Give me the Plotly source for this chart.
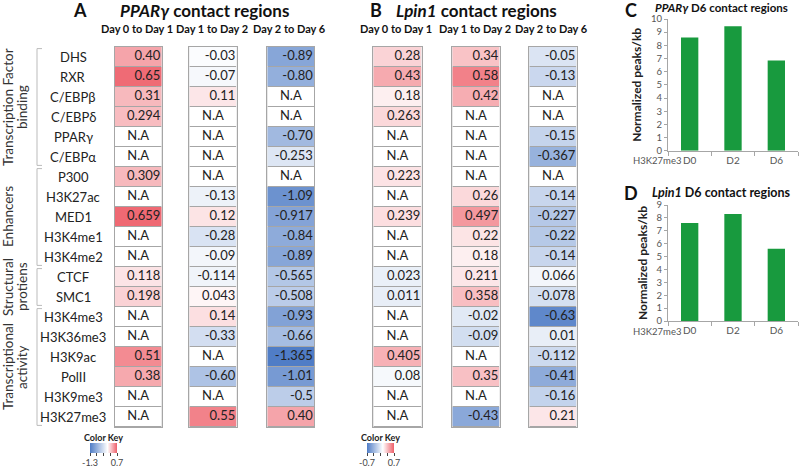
import plotly.graph_objects as go

# ---------------- data ----------------
rows = ["DHS", "RXR", "C/EBPβ", "C/EBPδ", "PPARγ", "C/EBPα", "P300", "H3K27ac",
        "MED1", "H3K4me1", "H3K4me2", "CTCF", "SMC1", "H3K4me3", "H3K36me3",
        "H3K9ac", "PolII", "H3K9me3", "H3K27me3"]
columns = ["Day 0 to Day 1", "Day 1 to Day 2", "Day 2 to Day 6"]

pparg_d0_d1 = ["0.40", "0.65", "0.31", "0.294", "N.A", "N.A", "0.309", "N.A", "0.659", "N.A",
               "N.A", "0.118", "0.198", "N.A", "N.A", "0.51", "0.38", "N.A", "N.A"]
pparg_d1_d2 = ["-0.03", "-0.07", "0.11", "N.A", "N.A", "N.A", "N.A", "-0.13", "0.12", "-0.28",
               "-0.09", "-0.114", "0.043", "0.14", "-0.33", "N.A", "-0.60", "N.A", "0.55"]
pparg_d2_d6 = ["-0.89", "-0.80", "N.A", "N.A", "-0.70", "-0.253", "N.A", "-1.09", "-0.917", "-0.84",
               "-0.89", "-0.565", "-0.508", "-0.93", "-0.66", "-1.365", "-1.01", "-0.5", "0.40"]
lpin1_d0_d1 = ["0.28", "0.43", "0.18", "0.263", "N.A", "N.A", "0.223", "N.A", "0.239", "N.A",
               "N.A", "0.023", "0.011", "N.A", "N.A", "0.405", "0.08", "N.A", "N.A"]
lpin1_d1_d2 = ["0.34", "0.58", "0.42", "N.A", "N.A", "N.A", "N.A", "0.26", "0.497", "0.22",
               "0.18", "0.211", "0.358", "-0.02", "-0.09", "N.A", "0.35", "N.A", "-0.43"]
lpin1_d2_d6 = ["-0.05", "-0.13", "N.A", "N.A", "-0.15", "-0.367", "N.A", "-0.14", "-0.227", "-0.22",
               "-0.14", "0.066", "-0.078", "-0.63", "0.01", "-0.112", "-0.41", "-0.16", "0.21"]

groups = ["Transcription Factor|binding", "Enhancers", "Structural|protiens", "Transcriptional|activity"]
group_first_row = [0, 6, 11, 13]
group_last_row = [5, 10, 12, 18]

bar_days = ["D0", "D2", "D6"]
pparg_h3k27me3 = [8.6, 9.45, 6.85]
lpin1_h3k27me3 = [7.6, 8.3, 5.6]

key_a_range = [-1.3, 0.7]
key_b_range = [-0.7, 0.7]

# ---------------- style ----------------
W, H = 800, 468
FONT = "Lato"
BLUE = "rgb(80,125,198)"
RED = "rgb(238,96,106)"
GRID = "#a6a6a6"


def px(x):
    return x / W


def py(y):
    return 1 - y / H


row_top, row_bot = 47, 427
col_px = [(114.7, 161.7), (189.3, 236.7), (267.3, 314.3),
          (373.3, 421.7), (452.3, 499.7), (529.3, 576.7)]
panel_cols = [pparg_d0_d1, pparg_d1_d2, pparg_d2_d6, lpin1_d0_d1, lpin1_d1_d2, lpin1_d2_d6]

fig = go.Figure()
layout = dict(width=W, height=H, margin=dict(l=0, r=0, t=0, b=0, autoexpand=False),
              paper_bgcolor="white", plot_bgcolor="white",
              font=dict(family=FONT, color="#222"), showlegend=False)

n = len(rows)
ridx = list(range(n))
for k, vals in enumerate(panel_cols):
    xa = "x" if k == 0 else f"x{k+1}"
    ya = "y" if k == 0 else f"y{k+1}"
    fig.add_trace(go.Heatmap(x=[0], y=ridx, z=[[1] for _ in ridx], xaxis=xa, yaxis=ya,
                             colorscale=[[0, GRID], [1, GRID]], showscale=False, hoverinfo="skip"))
    fig.add_trace(go.Heatmap(x=[0], y=ridx, z=[[1] for _ in ridx], xaxis=xa, yaxis=ya, ygap=1,
                             colorscale=[[0, "white"], [1, "white"]], showscale=False, hoverinfo="skip"))
    zvals = [[None if v == "N.A" else float(v)] for v in vals]
    fig.add_trace(go.Heatmap(x=[0], y=ridx, z=zvals, xaxis=xa, yaxis=ya, ygap=1,
                             coloraxis="coloraxis" if k < 3 else "coloraxis2", hoverinfo="skip"))
    num_r = [i for i, v in enumerate(vals) if v != "N.A"]
    na_r = [i for i, v in enumerate(vals) if v == "N.A"]
    fig.add_trace(go.Scatter(x=[0.47] * len(num_r), y=num_r, text=[vals[i] for i in num_r],
                             mode="text", textposition="middle left", xaxis=xa, yaxis=ya,
                             textfont=dict(family=FONT, size=13, color="#222"), hoverinfo="skip",
                             cliponaxis=False))
    fig.add_trace(go.Scatter(x=[0] * len(na_r), y=na_r, text=["N.A"] * len(na_r),
                             mode="text", textposition="middle center", xaxis=xa, yaxis=ya,
                             textfont=dict(family=FONT, size=13, color="#222"), hoverinfo="skip",
                             cliponaxis=False))
    l, r = col_px[k]
    layout["xaxis" if k == 0 else f"xaxis{k+1}"] = dict(
        domain=[px(l), px(r)], range=[-0.5, 0.5], anchor=ya, showticklabels=False, ticks="",
        showgrid=False, zeroline=False, showline=True, mirror=True, linecolor=GRID, linewidth=1)
    layout["yaxis" if k == 0 else f"yaxis{k+1}"] = dict(
        domain=[py(row_bot), py(row_top)], range=[n - 0.5, -0.5], anchor=xa, showticklabels=False,
        ticks="", showgrid=False, zeroline=False, showline=True, mirror=True, linecolor=GRID, linewidth=1)

za = (0 - key_a_range[0]) / (key_a_range[1] - key_a_range[0])
zb = (0.12 - key_b_range[0]) / (key_b_range[1] - key_b_range[0])


def cbar(xc, rng):
    step = (rng[1] - rng[0]) / 4
    tv = [rng[0] + i * step for i in range(5)]
    tt = [f"{rng[0]:g}", "", "", "", f"{rng[1]:g}"]
    return dict(orientation="h", x=px(xc), xanchor="center", y=py(432), yanchor="top",
                len=27, lenmode="pixels", thickness=10, thicknessmode="pixels",
                outlinewidth=0, xpad=0, ypad=0, ticks="outside", ticklen=3, tickwidth=1,
                tickcolor="#444", tickvals=tv, ticktext=tt,
                tickfont=dict(family=FONT, size=9, color="#444"),
                title=dict(text="<b>Color Key</b>", side="top", font=dict(family=FONT, size=9, color="#222")))


layout["coloraxis"] = dict(cmin=key_a_range[0], cmax=key_a_range[1],
                           colorscale=[[0, BLUE], [za, "white"], [1, RED]], colorbar=cbar(103.5, key_a_range))
layout["coloraxis2"] = dict(cmin=key_b_range[0], cmax=key_b_range[1],
                            colorscale=[[0, BLUE], [zb, "white"], [1, RED]], colorbar=cbar(380.5, key_b_range))

ann = []
shapes = []
for i, r in enumerate(rows):
    ann.append(dict(x=px(73), y=i, xref="paper", yref="y", text=r, showarrow=False,
                    xanchor="center", yanchor="middle", font=dict(family=FONT, size=13, color="#222")))
for k in range(6):
    l, r = col_px[k]
    ann.append(dict(x=px((l + r) / 2 - 1.5), y=py(28), xref="paper", yref="paper", text=f"<b>{columns[k % 3]}</b>",
                    showarrow=False, xanchor="center", yanchor="middle", font=dict(family=FONT, size=11, color="#111")))
for g, a, b in zip(groups, group_first_row, group_last_row):
    y0, y1 = a - 0.42, b + 0.42
    shapes.append(dict(type="line", xref="paper", yref="y", x0=px(37), x1=px(37), y0=y0, y1=y1,
                       line=dict(color="#bbbbbb", width=1)))
    for yy in (y0, y1):
        shapes.append(dict(type="line", xref="paper", yref="y", x0=px(37), x1=px(42), y0=yy, y1=yy,
                           line=dict(color="#bbbbbb", width=1)))
    parts = g.split("|")
    for j, p in enumerate(parts):
        ann.append(dict(x=px(8 + 14 * j), y=(a + b) / 2, xref="paper", yref="y", text=p, textangle=-90,
                        showarrow=False, xanchor="center", yanchor="middle",
                        font=dict(family=FONT, size=13.5, color="#333")))
ann += [
    dict(x=px(80), y=py(10), xref="paper", yref="paper", text="<b>A</b>", showarrow=False,
         xanchor="center", yanchor="middle", font=dict(family=FONT, size=18, color="#111")),
    dict(x=px(205), y=py(10), xref="paper", yref="paper", text="<b><i>PPARγ</i> contact regions</b>",
         showarrow=False, xanchor="center", yanchor="middle", font=dict(family=FONT, size=17, color="#111")),
    dict(x=px(376), y=py(10), xref="paper", yref="paper", text="<b>B</b>", showarrow=False,
         xanchor="center", yanchor="middle", font=dict(family=FONT, size=18, color="#111")),
    dict(x=px(477), y=py(10), xref="paper", yref="paper", text="<b><i>Lpin1</i> contact regions</b>",
         showarrow=False, xanchor="center", yanchor="middle", font=dict(family=FONT, size=17, color="#111")),
]

GREEN = "rgb(24,154,62)"
bar_specs = [("x7", "y7", pparg_h3k27me3, (19, 150.7), 10, "C", "<i>PPARγ</i>", 10, 7.5, 11.5),
             ("x8", "y8", lpin1_h3k27me3, (205, 321), 9, "D", "<i>Lpin1</i>", 193, 192, 12.5)]
for xa, ya, vals, (ytop, ybot), ymax, letter, gene, ty, tty, tsize in bar_specs:
    fig.add_trace(go.Bar(x=bar_days, y=vals, xaxis=xa, yaxis=ya, marker=dict(color=GREEN, line=dict(width=0)),
                         width=0.4, hoverinfo="skip"))
    layout["xaxis" + xa[1:]] = dict(domain=[px(668), px(798)], anchor=ya, type="category",
                                    showline=True, linecolor="#a6a6a6", ticks="outside", tickson="boundaries",
                                    ticklen=4, tickcolor="#a6a6a6", showgrid=False,
                                    tickfont=dict(family=FONT, size=10, color="#555"))
    layout["yaxis" + ya[1:]] = dict(domain=[py(ybot), py(ytop)], anchor=xa, range=[0, ymax], dtick=1,
                                    showline=True, linecolor="#a6a6a6", ticks="outside", ticklen=3,
                                    tickcolor="#a6a6a6", showgrid=False, zeroline=False,
                                    tickfont=dict(family=FONT, size=9.5, color="#555"),
                                    title=dict(text="<b>Normalized peaks/kb</b>", standoff=6,
                                               font=dict(family=FONT, size=12, color="#222")))
    ann.append(dict(x=px(657), y=py(ybot + 10), xref="paper", yref="paper", text="H3K27me3", showarrow=False,
                    xanchor="center", yanchor="middle", font=dict(family=FONT, size=9.5, color="#555")))
    ann.append(dict(x=px(631), y=py(ty), xref="paper", yref="paper", text=f"<b>{letter}</b>", showarrow=False,
                    xanchor="center", yanchor="middle", font=dict(family=FONT, size=18, color="#111")))
    ann.append(dict(x=px(721), y=py(tty), xref="paper", yref="paper", text=f"<b>{gene} D6 contact regions</b>",
                    showarrow=False, xanchor="center", yanchor="middle", font=dict(family=FONT, size=tsize, color="#111")))

layout["annotations"] = ann
layout["shapes"] = shapes
fig.update_layout(**layout)
fig.write_html("out.html", config={"displayModeBar": False},
               post_script="document.body.style.margin='0';")
